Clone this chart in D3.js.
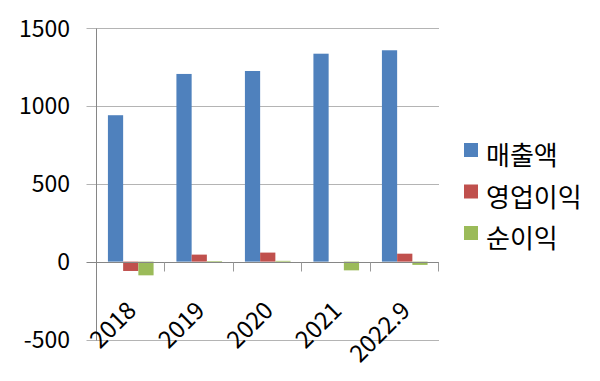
<!DOCTYPE html>
<html>
<head>
<meta charset="utf-8">
<script src="https://cdn.jsdelivr.net/npm/d3@7"></script>
<style>
html,body{margin:0;padding:0;background:#fff;}
svg{display:block;}
text{font-family:"Noto Sans CJK KR","Noto Sans",sans-serif;fill:#000;}
</style>
</head>
<body>
<svg id="chart" width="600" height="381"></svg>
<script>
const categories = ["2018", "2019", "2020", "2021", "2022.9"];
const seriesNames = ["매출액", "영업이익", "순이익"];
const sales = [940, 1205, 1224, 1335, 1357];
const operatingProfit = [-60, 45, 58, 0, 51];
const netProfit = [-88, 4, 5, -56, -21];
const yTicks = [-500, 0, 500, 1000, 1500];
const colors = ["#4F81BD", "#C0504D", "#9BBB59"];

const seriesValues = [sales, operatingProfit, netProfit];
const svg = d3.select("#chart");

const pLeft = 96.5, pRight = 439, pTop = 28, pBottom = 339.5;
const y = d3.scaleLinear().domain([-500, 1500]).range([pBottom, pTop]);
const x0 = d3.scaleBand().domain(categories).range([pLeft, pRight]).padding(0);
const x1 = d3.scaleBand().domain(seriesNames).range([0, x0.bandwidth()]).paddingInner(0).paddingOuter(0.75);

const crisp = v => Math.round(v) + 0.5;

// gridlines
svg.append("g").selectAll("line").data(yTicks.filter(d => d !== 0)).join("line")
  .attr("x1", pLeft - 10).attr("x2", pRight)
  .attr("y1", d => crisp(y(d))).attr("y2", d => crisp(y(d)))
  .attr("stroke", "#b4b4b4").attr("stroke-width", 1);

// bars
const groups = svg.append("g").selectAll("g").data(categories).join("g")
  .attr("transform", d => `translate(${x0(d)},0)`);
groups.selectAll("rect").data((c, i) => seriesNames.map((s, k) => ({s, k, v: seriesValues[k][i]}))).join("rect")
  .attr("x", d => x1(d.s))
  .attr("width", x1.bandwidth())
  .attr("y", d => Math.min(y(d.v), y(0)))
  .attr("height", d => Math.abs(y(d.v) - y(0)))
  .attr("fill", d => colors[d.k]);

// zero axis line
svg.append("line").attr("x1", pLeft - 10).attr("x2", pRight)
  .attr("y1", crisp(y(0))).attr("y2", crisp(y(0)))
  .attr("stroke", "#868686");
// category ticks
const boundaries = categories.map(c => x0(c) + x0.bandwidth());
svg.append("g").selectAll("line").data(boundaries).join("line")
  .attr("x1", d => crisp(d) - 1).attr("x2", d => crisp(d) - 1)
  .attr("y1", crisp(y(0))).attr("y2", crisp(y(0)) + 9)
  .attr("stroke", "#9a9a9a");
// vertical axis
svg.append("line").attr("x1", crisp(pLeft) - 1).attr("x2", crisp(pLeft) - 1)
  .attr("y1", crisp(y(1500))).attr("y2", crisp(y(-500)))
  .attr("stroke", "#868686");

// y labels
svg.append("g").selectAll("text").data(yTicks).join("text")
  .attr("x", 70).attr("y", d => y(d) + 8.5)
  .attr("text-anchor", "end")
  .attr("font-size", 23)
  .text(d => d);

// x labels
svg.append("g").selectAll("text").data(categories).join("text")
  .attr("transform", d => `translate(${x0(d) + x0.bandwidth() / 2 + 7},312) rotate(-45)`)
  .attr("text-anchor", "end")
  .attr("font-size", 24)
  .text(d => d);

// legend
const legend = svg.append("g").selectAll("g").data(seriesNames).join("g")
  .attr("transform", (d, i) => `translate(464,${150 + i * 41.5})`);
legend.append("rect").attr("x", 0).attr("y", -7).attr("width", 14).attr("height", 14)
  .attr("fill", (d, i) => colors[i]);
legend.append("text").attr("x", 22).attr("y", 3.5)
  .attr("dominant-baseline", "central")
  .attr("font-size", 26)
  .text(d => d);
</script>
</body>
</html>
